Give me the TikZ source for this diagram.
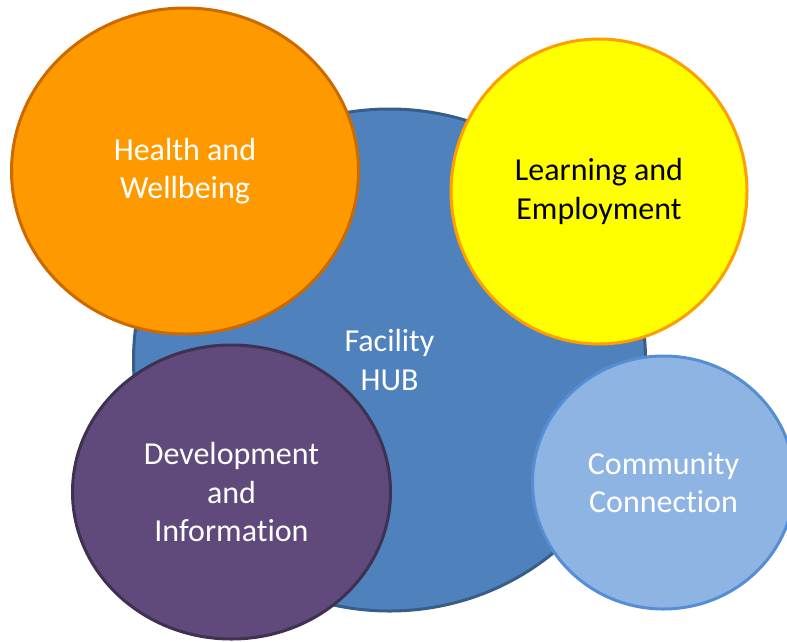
\documentclass[tikz,border=0pt]{standalone}
\usepackage{fontspec}
\setmainfont[Ligatures=CommonOff]{Carlito}
\usetikzlibrary{shapes.geometric}

\definecolor{hubblue}{HTML}{4F81BD}
\definecolor{hubedge}{HTML}{385D8A}
\definecolor{healthfill}{HTML}{FF9900}
\definecolor{healthedge}{HTML}{CC6A00}
\definecolor{learnfill}{HTML}{FFFF00}
\definecolor{learnedge}{HTML}{FF9E00}
\definecolor{devfill}{HTML}{604A7B}
\definecolor{devedge}{HTML}{3F3151}
\definecolor{commfill}{HTML}{8EB4E3}
\definecolor{commedge}{HTML}{558ED5}

\begin{document}
\begin{tikzpicture}[x=1pt,y=-1pt]
	\tikzstyle{every node}=[font=\fontsize{32}{38.5}\selectfont, align=center, inner sep=0pt]
	\tikzstyle{bubble}=[ellipse, line width=3pt]
	
	\useasboundingbox (0.0000,0.0000) rectangle (787.0000,641.0000);
	
	%% hub in the middle, drawn first so the others sit on top
	\node [bubble, draw=hubedge, fill=hubblue, text=white, minimum width=512, minimum height=502] (hub) at (389.5000,360.0000) {Facility\\HUB};
	
	%% the four satellites
	\node [bubble, draw=healthedge, fill=healthfill, text=white, minimum width=347, minimum height=326] (health) at (185.0000,171.0000) {Health and\\Wellbeing};
	\node [bubble, draw=learnedge, fill=learnfill, text=black, minimum width=296, minimum height=305] (learning) at (599.0000,191.5000) {Learning and\\Employment};
	\node [bubble, draw=devedge, fill=devfill, text=white, minimum width=318, minimum height=294] (dev) at (231.5000,492.0000) {Development\\and\\Information};
	\node [bubble, draw=commedge, fill=commfill, text=white, minimum width=262, minimum height=253] (comm) at (663.5000,482.5000) {Community\\Connection};

\end{tikzpicture}
\end{document}
